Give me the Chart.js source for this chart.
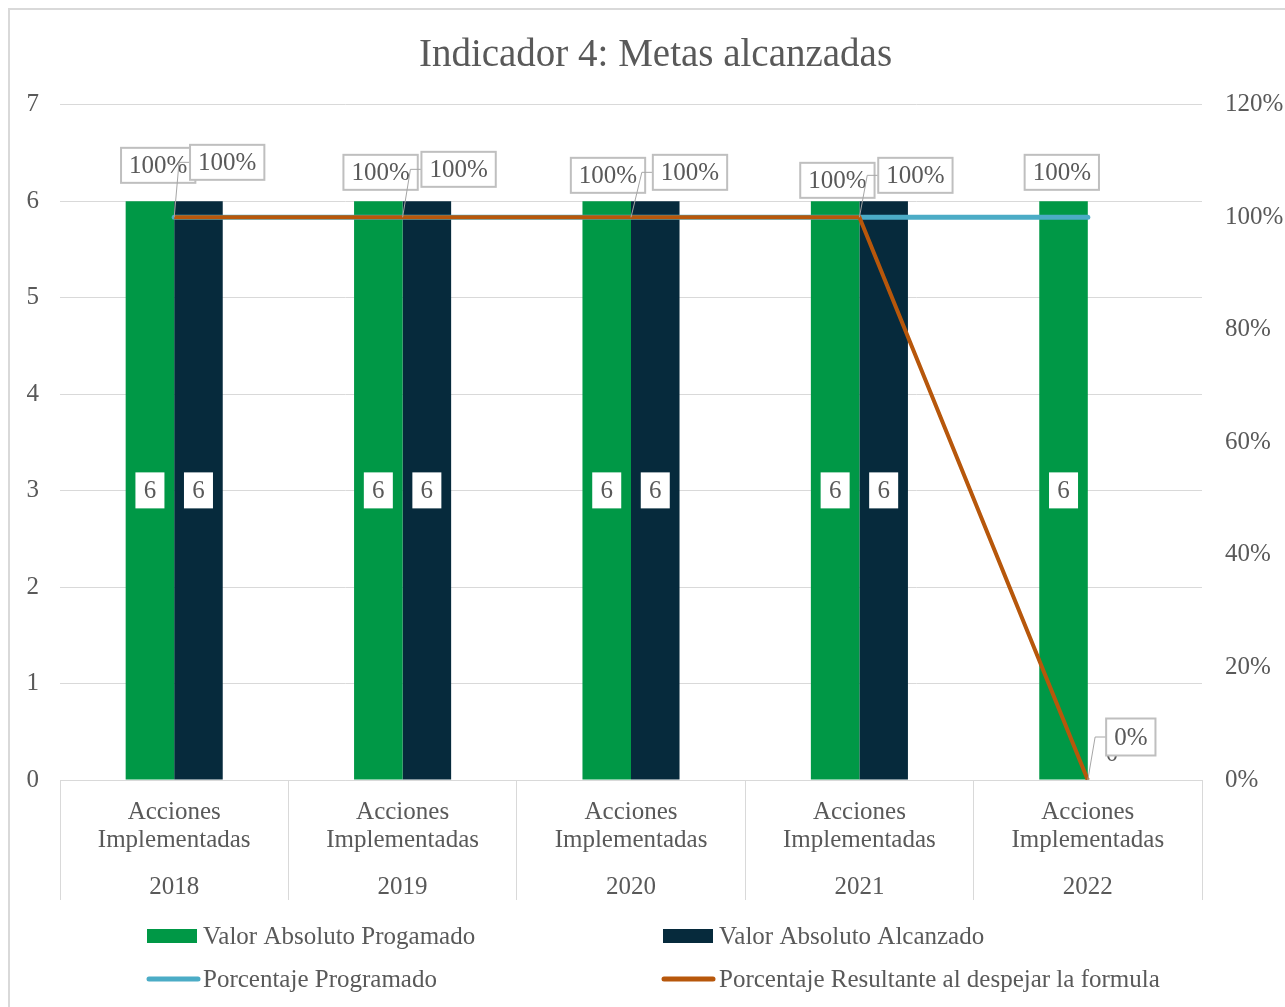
<!DOCTYPE html>
<html><head><meta charset="utf-8">
<script src="https://cdn.jsdelivr.net/npm/chart.js@4"></script>
<style>html,body{margin:0;padding:0;background:#fff;}canvas{display:block;}</style>
</head><body>
<canvas id="c" width="1285" height="1007"></canvas>
<script>
// ---- data ----
const years = ['2018', '2019', '2020', '2021', '2022'];
const categoryLabel = ['Acciones', 'Implementadas'];
const valorProgramado = [6, 6, 6, 6, 6];
const valorAlcanzado = [6, 6, 6, 6, 0];
const porcentajeProgramado = [100, 100, 100, 100, 100];
const porcentajeResultante = [100, 100, 100, 100, 0];
const leftAxis = { min: 0, max: 7, step: 1 };
const rightAxis = { min: 0, max: 120, step: 20 };
const seriesNames = ['Valor Absoluto Progamado', 'Valor Absoluto Alcanzado', 'Porcentaje Programado', 'Porcentaje Resultante al despejar la formula'];
const titleText = 'Indicador 4: Metas alcanzadas';

// ---- style ----
const FONT = "'Liberation Serif', 'Times New Roman', serif";
const TXT = '#595959';
const GRID = '#d9d9d9';
const COLORS = ['#009846', '#062a3c', '#4bacc6', '#b7570b'];
// label offsets (px) from each line point
const labelOffsets = {
  2: [[-16, -52], [-22, -45], [-23, -42], [-22, -37], [-26, -45]],
  3: [[53, -55], [56, -48], [59, -45], [56, -42], [43, -43]]
};

Chart.defaults.font.family = FONT;
Chart.defaults.color = TXT;

function drawBox(ctx, cx, cy, text, w, h, border) {
  ctx.save();
  ctx.font = '25px ' + FONT;
  if (!w) w = ctx.measureText(text).width + 16;
  const x = cx - w / 2, y = cy - h / 2;
  ctx.fillStyle = '#fff';
  ctx.fillRect(x, y, w, h);
  if (border) { ctx.strokeStyle = '#bfbfbf'; ctx.lineWidth = 2; ctx.strokeRect(x, y, w, h); }
  ctx.fillStyle = TXT; ctx.textAlign = 'center'; ctx.textBaseline = 'middle';
  ctx.fillText(text, cx, cy + 1);
  ctx.restore();
  return { x, y, w, h };
}

const framePlugin = {
  id: 'frame',
  beforeDraw(chart) {
    const ctx = chart.ctx;
    ctx.save();
    ctx.fillStyle = '#fff';
    ctx.fillRect(0, 0, chart.width, chart.height);
    ctx.strokeStyle = GRID; ctx.lineWidth = 2;
    ctx.strokeRect(9, 9, 1400, 1100);
    ctx.restore();
  }
};

const labelPlugin = {
  id: 'labels',
  afterDatasetsDraw(chart) {
    const ctx = chart.ctx;
    // bar value labels
    [0, 1].forEach(di => {
      const meta = chart.getDatasetMeta(di);
      const data = chart.data.datasets[di].data;
      meta.data.forEach((el, i) => {
        const v = data[i];
        let cy = (el.y + el.base) / 2;
        if (v === 0) cy = el.base - 27;
        drawBox(ctx, el.x, cy, String(v), 29, 36, false);
      });
    });
    // line labels: Programado first
    const fmt = v => v + '%';
    const m2 = chart.getDatasetMeta(2);
    chart.data.datasets[2].data.forEach((v, i) => {
      const p = m2.data[i];
      const o = labelOffsets[2][i];
      drawBox(ctx, p.x + o[0], p.y + o[1], fmt(v), 0, 35, true);
    });
    const m3 = chart.getDatasetMeta(3);
    chart.data.datasets[3].data.forEach((v, i) => {
      const p = m3.data[i];
      const o = labelOffsets[3][i];
      ctx.save();
      ctx.font = '25px ' + FONT;
      const w = ctx.measureText(fmt(v)).width + 16;
      const bx = p.x + o[0] - w / 2, cy = p.y + o[1];
      ctx.strokeStyle = '#a6a6a6'; ctx.lineWidth = 1;
      ctx.beginPath();
      ctx.moveTo(p.x, p.y);
      ctx.lineTo(bx - 11, cy);
      ctx.lineTo(bx, cy);
      ctx.stroke();
      ctx.restore();
      drawBox(ctx, p.x + o[0], cy, fmt(v), w, v === 0 ? 37 : 35, true);
    });
  }
};

const legendPlugin = {
  id: 'customLegend',
  afterDraw(chart) {
    const ctx = chart.ctx;
    ctx.save();
    ctx.font = '25px ' + FONT;
    ctx.textBaseline = 'middle'; ctx.textAlign = 'left';
    const items = [
      { type: 'rect', x: 147, y: 936, textX: 203, c: COLORS[0], t: seriesNames[0] },
      { type: 'rect', x: 663, y: 936, textX: 719, c: COLORS[1], t: seriesNames[1] },
      { type: 'line', x: 147, y: 979, textX: 203, c: COLORS[2], t: seriesNames[2] },
      { type: 'line', x: 662, y: 979, textX: 719, c: COLORS[3], t: seriesNames[3] }
    ];
    items.forEach(it => {
      if (it.type === 'rect') {
        ctx.fillStyle = it.c;
        ctx.fillRect(it.x, it.y - 7, 50, 14);
      } else {
        ctx.strokeStyle = it.c; ctx.lineWidth = 5; ctx.lineCap = 'round';
        ctx.beginPath(); ctx.moveTo(it.x + 2, it.y); ctx.lineTo(it.x + 51, it.y); ctx.stroke();
      }
      ctx.fillStyle = TXT;
      ctx.fillText(it.t, it.textX, it.y + 1);
    });
    ctx.restore();
  }
};

new Chart(document.getElementById('c'), {
  type: 'bar',
  data: {
    labels: years,
    datasets: [
      { type: 'bar', label: seriesNames[0], data: valorProgramado, backgroundColor: COLORS[0], yAxisID: 'y', xAxisID: 'x', order: 2, barPercentage: 1, categoryPercentage: 0.425 },
      { type: 'bar', label: seriesNames[1], data: valorAlcanzado, backgroundColor: COLORS[1], yAxisID: 'y', xAxisID: 'x', order: 3, barPercentage: 1, categoryPercentage: 0.425 },
      { type: 'line', label: seriesNames[2], data: porcentajeProgramado, borderColor: COLORS[2], backgroundColor: COLORS[2], borderWidth: 5, pointRadius: 0, yAxisID: 'y1', xAxisID: 'x', order: 1, borderCapStyle: 'round', tension: 0 },
      { type: 'line', label: seriesNames[3], data: porcentajeResultante, borderColor: COLORS[3], backgroundColor: COLORS[3], borderWidth: 4, pointRadius: 0, yAxisID: 'y1', xAxisID: 'x', order: 0, tension: 0 }
    ]
  },
  options: {
    responsive: false,
    animation: false,
    devicePixelRatio: 1,
    layout: { padding: { left: 26, right: 0, top: 0, bottom: 107 } },
    plugins: {
      legend: { display: false },
      tooltip: { enabled: false },
      title: {
        display: true, text: titleText, color: TXT,
        font: { family: FONT, size: 39, weight: 'normal', lineHeight: 1.2 },
        padding: { top: 32, bottom: 26 }
      }
    },
    scales: {
      x: {
        type: 'category', position: 'bottom',
        grid: { offset: true, drawOnChartArea: false, drawTicks: true, tickLength: 120, color: GRID, lineWidth: 1 },
        border: { display: true, color: GRID, width: 1 },
        ticks: { callback: () => categoryLabel, padding: -102, autoSkip: false, maxRotation: 0, font: { size: 25, lineHeight: 1.12 }, color: TXT },
        afterFit: s => { s.height = 84; }
      },
      x2: {
        type: 'category', position: 'bottom',
        grid: { display: false }, border: { display: false },
        ticks: { padding: 1, autoSkip: false, maxRotation: 0, font: { size: 25, lineHeight: 1.12 }, color: TXT },
        afterFit: s => { s.height = 36; }
      },
      y: {
        position: 'left', min: leftAxis.min, max: leftAxis.max,
        ticks: { stepSize: leftAxis.step, padding: 21, font: { size: 25 }, color: TXT },
        grid: { color: GRID, drawTicks: false, lineWidth: 1 },
        border: { display: false },
        afterFit: s => { s.width = 34; }
      },
      y1: {
        position: 'right', min: rightAxis.min, max: rightAxis.max,
        ticks: { stepSize: rightAxis.step, padding: 23, font: { size: 25 }, color: TXT, callback: v => v + '%' },
        grid: { display: false, drawTicks: false },
        border: { display: false },
        afterFit: s => { s.width = 83; }
      }
    }
  },
  plugins: [framePlugin, labelPlugin, legendPlugin]
});
</script>
</body></html>
